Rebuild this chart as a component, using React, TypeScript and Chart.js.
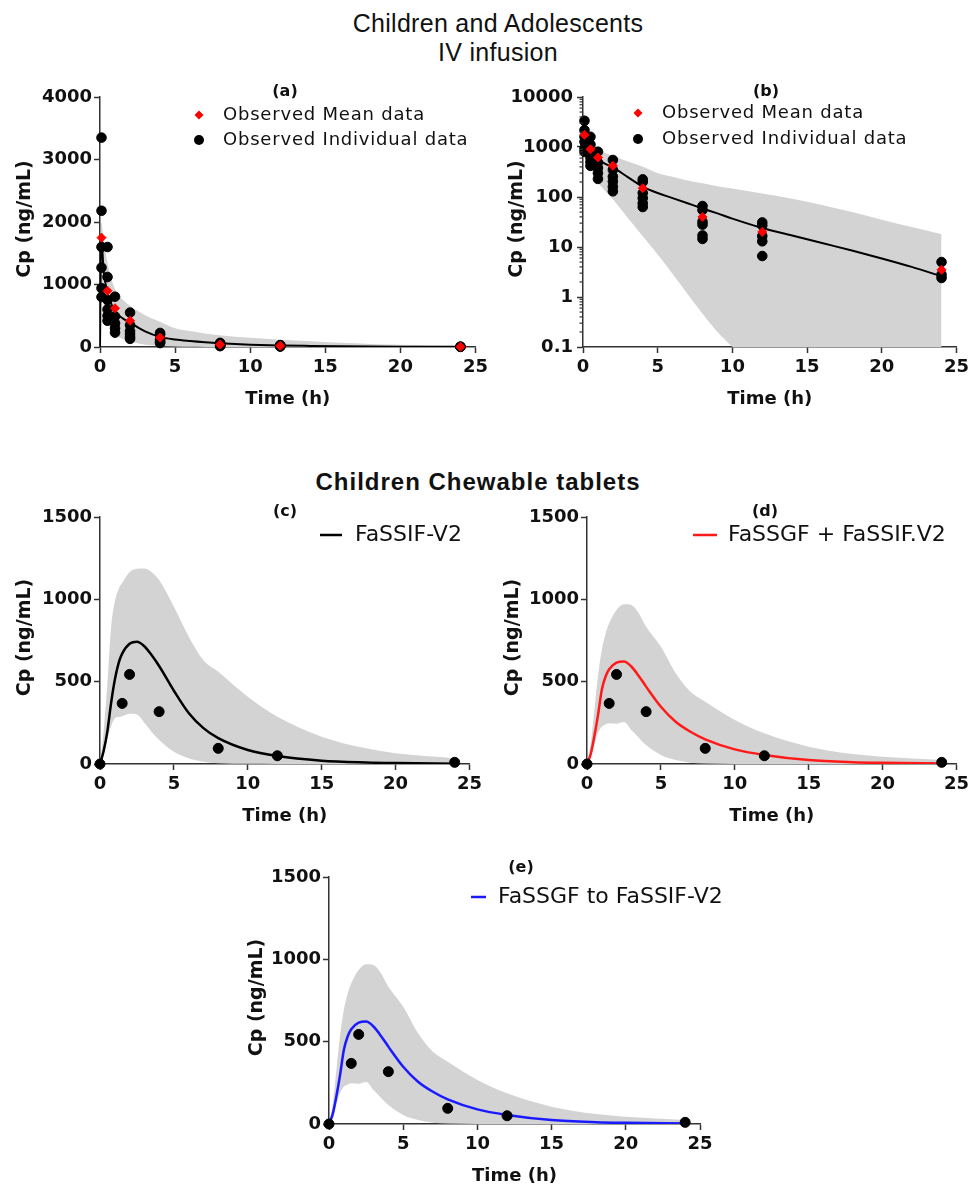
import React, { useEffect, useRef } from 'react';
import { Chart, registerables } from 'chart.js';
Chart.register(...registerables);

// ---------- Children & adolescents, IV infusion ----------
const ivTime = [0, 0.08, 0.25, 0.5, 0.75, 1, 1.5, 2, 3, 4, 5, 6, 7, 8, 9, 10, 12, 14, 16, 18, 20, 22, 24];
const ivSim = [0, 1750, 1200, 870, 690, 570, 460, 390, 250, 162, 120, 95, 75, 59, 47, 37, 24, 17, 12, 8.5, 5.9, 4.0, 2.6];
const ivUpper = [0, 2000, 1700, 1350, 1100, 920, 760, 660, 510, 404, 300, 255, 215, 188, 165, 148, 118, 92, 69, 50, 35, 25, 18];
const ivLower = [0, 900, 700, 450, 300, 200, 130, 90, 38, 16.5, 7.1, 2.9, 1.15, 0.46, 0.2, 0.1, 0.02, 0.004, 0.001, 0.0002, 0.00005, 0.00001, 0.000002];

const ivIndTime = [
  0.1, 0.1, 0.1, 0.1, 0.1, 0.1,
  0.5, 0.5, 0.5, 0.5, 0.5, 0.5,
  1, 1, 1, 1, 1,
  2, 2, 2, 2, 2, 2,
  4, 4, 4, 4, 4, 4,
  8, 8, 8, 8, 8, 8,
  12, 12, 12, 12, 12,
  24, 24, 24,
];
const ivIndConc = [
  3350, 2180, 1600, 1270, 940, 800,
  1600, 1120, 750, 600, 500, 420,
  805, 490, 380, 300, 230,
  550, 350, 255, 205, 160, 130,
  225, 200, 120, 95, 75, 63,
  66, 55, 32, 28, 17, 14.5,
  31, 27, 16.5, 13, 6.6,
  5, 2.8, 2.4,
];
const ivMeanTime = [0.1, 0.5, 1, 2, 4, 8, 12, 24];
const ivMeanConc = [1750, 900, 620, 420, 150, 40, 20, 3.5];

// ---------- Children, chewable tablets ----------
const oralTime = [0, 0.25, 0.5, 0.75, 1, 1.25, 1.5, 2, 2.5, 3, 3.5, 4, 5, 6, 7, 8, 10, 12, 15, 18, 20, 24];
const fassifSim = [0, 80, 200, 370, 510, 610, 670, 730, 742, 715, 660, 595, 445, 310, 218, 157, 85, 48, 20, 9, 5.5, 2];
const fassifUpper = [0, 200, 490, 830, 985, 1060, 1100, 1165, 1185, 1188, 1165, 1117, 955, 775, 630, 560, 408, 287, 166, 95, 65, 35];
const fassifLower = [0, 60, 150, 230, 277, 285, 290, 305, 300, 250, 195, 146, 75, 35, 14, 5, 1, 0.3, 0, 0, 0, 0];
const gastricSim = [0, 60, 170, 300, 450, 530, 575, 615, 622, 592, 535, 470, 348, 257, 196, 150, 89, 55, 24, 11, 7, 3];
const gastricUpper = [0, 120, 330, 540, 692, 790, 854, 935, 970, 965, 915, 833, 712, 551, 439, 378, 267, 186, 105, 60, 44, 24];
const gastricLower = [0, 40, 120, 190, 226, 240, 247, 245, 255, 206, 160, 115, 55, 24, 8, 3, 0.5, 0, 0, 0, 0, 0];
const oralObsTime = [0, 1.5, 2, 4, 8, 12, 24];
const oralObsConc = [0, 368, 544, 318, 95, 50, 10];

// tick labels
const xTicks = [0, 5, 10, 15, 20, 25];
const logTicks = [0.1, 1, 10, 100, 1000, 10000];

// ---------- styling ----------
const AXIS = '#333333';
const TEXT = '#111111';
const BAND = '#d3d3d3';
const TICK_FONT = { family: 'DejaVu Sans', size: 18, weight: 'bold' as const };

const pts = (xs: number[], ys: number[]) => xs.map((x, i) => ({ x, y: ys[i] }));

function band(time: number[], lower: number[], upper: number[]) {
  return [
    {
      data: pts(time, lower), borderWidth: 0, borderColor: 'rgba(0,0,0,0)', backgroundColor: BAND,
      pointRadius: 0, fill: false, order: 6, cubicInterpolationMode: 'monotone',
    },
    {
      data: pts(time, upper), borderWidth: 0, borderColor: 'rgba(0,0,0,0)', backgroundColor: BAND,
      pointRadius: 0, fill: '-1', order: 5, cubicInterpolationMode: 'monotone',
    },
  ];
}
function simLine(time: number[], vals: number[], color: string, width: number) {
  return {
    data: pts(time, vals), borderColor: color, borderWidth: width, pointRadius: 0, fill: false,
    order: 3, cubicInterpolationMode: 'monotone',
  };
}
function dots(time: number[], vals: number[], color: string, style: string, r: number, order: number) {
  return {
    data: pts(time, vals), showLine: false, pointStyle: style, pointRadius: r,
    pointBackgroundColor: color, pointBorderColor: color, pointBorderWidth: 1,
    order, clip: false,
  };
}

type LegendItem = {
  kind: 'diamond' | 'circle' | 'line';
  color: string; mx: number; mx2?: number; y: number; tx: number; text: string;
  font: string; spacing: string;
};
type Spec = {
  left: number; top: number; width: number; height: number; padRight: number;
  log: boolean; yMax: number; yStep: number; yTickPad: number; yTitleOffset: number;
  label: string; labelX: number; labelY: number;
  datasets: any[]; legend: LegendItem[];
};

const ivDatasets = () => [
  ...band(ivTime, ivLower, ivUpper),
  simLine(ivTime, ivSim, '#000000', 2),
  dots(ivIndTime, ivIndConc, '#000000', 'circle', 4.8, 2),
  dots(ivMeanTime, ivMeanConc, '#ff0000', 'rectRot', 4.5, 1),
];
const oralDatasets = (sim: number[], lo: number[], up: number[], color: string) => [
  ...band(oralTime, lo, up),
  simLine(oralTime, sim, color, 2.5),
  dots(oralObsTime, oralObsConc, '#000000', 'circle', 5, 1),
];

const LEG_SMALL = '18px "DejaVu Sans"';
const LEG_BIG = '22px "DejaVu Sans"';

const ivLegend = (mx: number, tx: number, y1: number, y2: number): LegendItem[] => [
  { kind: 'diamond', color: '#ff0000', mx, y: y1, tx, text: 'Observed Mean data', font: LEG_SMALL, spacing: '0.8px' },
  { kind: 'circle', color: '#000000', mx, y: y2, tx, text: 'Observed Individual data', font: LEG_SMALL, spacing: '0.8px' },
];

const specs: Spec[] = [
  {
    left: 5, top: 72, width: 487, height: 337, padRight: 15, log: false, yMax: 4000, yStep: 1000, yTickPad: 2, yTitleOffset: 75,
    label: '(a)', labelX: 285, labelY: 92, datasets: ivDatasets(), legend: ivLegend(199, 223, 115, 140),
  },
  {
    left: 488, top: 72, width: 485, height: 337, padRight: 15, log: true, yMax: 10000, yStep: 0, yTickPad: 4, yTitleOffset: 66,
    label: '(b)', labelX: 766, labelY: 92, datasets: ivDatasets(), legend: ivLegend(638, 662, 113, 139),
  },
  {
    left: 5, top: 492, width: 481, height: 334, padRight: 15, log: false, yMax: 1500, yStep: 500, yTickPad: 2, yTitleOffset: 75,
    label: '(c)', labelX: 285, labelY: 512,
    datasets: oralDatasets(fassifSim, fassifLower, fassifUpper, '#000000'),
    legend: [{ kind: 'line', color: '#000000', mx: 320, mx2: 342, y: 535, tx: 355, text: 'FaSSIF-V2', font: LEG_BIG, spacing: '0px' }],
  },
  {
    left: 492, top: 492, width: 481, height: 334, padRight: 15, log: false, yMax: 1500, yStep: 500, yTickPad: 2, yTitleOffset: 74,
    label: '(d)', labelX: 765, labelY: 512,
    datasets: oralDatasets(gastricSim, gastricLower, gastricUpper, '#ff1a1a'),
    legend: [{ kind: 'line', color: '#ff1a1a', mx: 693, mx2: 717, y: 535, tx: 728, text: 'FaSSGF + FaSSIF.V2', font: LEG_BIG, spacing: '0px' }],
  },
  {
    left: 234, top: 852, width: 521, height: 334, padRight: 55, log: false, yMax: 1500, yStep: 500, yTickPad: 2, yTitleOffset: 72,
    label: '(e)', labelX: 521, labelY: 868,
    datasets: oralDatasets(gastricSim, gastricLower, gastricUpper, '#1a1aff'),
    legend: [{ kind: 'line', color: '#1a1aff', mx: 471, mx2: 486, y: 897, tx: 498, text: 'FaSSGF to FaSSIF-V2', font: LEG_BIG, spacing: '0px' }],
  },
];

function decor(spec: Spec) {
  return {
    id: 'decor',
    afterDraw(chart: any) {
      const { ctx, chartArea: ca } = chart;
      const ox = spec.left, oy = spec.top;
      ctx.save();
      ctx.fillStyle = TEXT;
      ctx.textAlign = 'center';
      ctx.textBaseline = 'middle';
      ctx.font = 'bold 18px "DejaVu Sans"';
      ctx.fillText('Time (h)', (ca.left + ca.right) / 2, ca.bottom + 52);
      ctx.save();
      ctx.translate(ca.left - spec.yTitleOffset, (ca.top + ca.bottom) / 2 - 3);
      ctx.rotate(-Math.PI / 2);
      ctx.font = 'bold 19px "DejaVu Sans"';
      ctx.fillText('Cp (ng/mL)', 0, 0);
      ctx.restore();
      ctx.font = 'bold 16px "DejaVu Sans"';
      ctx.fillText(spec.label, spec.labelX - ox, spec.labelY - oy);

      if (spec.log) {
        const ys = chart.scales.y;
        ctx.strokeStyle = AXIS;
        ctx.lineWidth = 1.2;
        for (let e = -1; e < 4; e++) {
          for (let k = 2; k <= 9; k++) {
            const py = ys.getPixelForValue(k * Math.pow(10, e));
            ctx.beginPath();
            ctx.moveTo(ca.left - 3.5, py);
            ctx.lineTo(ca.left, py);
            ctx.stroke();
          }
        }
      }

      ctx.textAlign = 'left';
      for (const it of spec.legend) {
        const mx = it.mx - ox, my = it.y - oy;
        ctx.fillStyle = it.color;
        ctx.strokeStyle = it.color;
        if (it.kind === 'diamond') {
          const r = 4.5;
          ctx.beginPath();
          ctx.moveTo(mx, my - r); ctx.lineTo(mx + r, my); ctx.lineTo(mx, my + r); ctx.lineTo(mx - r, my);
          ctx.closePath(); ctx.fill();
        } else if (it.kind === 'circle') {
          ctx.beginPath(); ctx.arc(mx, my, 5, 0, Math.PI * 2); ctx.fill();
        } else {
          ctx.lineWidth = 2.5;
          ctx.beginPath(); ctx.moveTo(mx, my); ctx.lineTo((it.mx2 as number) - ox, my); ctx.stroke();
        }
        ctx.fillStyle = TEXT;
        ctx.font = it.font;
        (ctx as any).letterSpacing = it.spacing;
        ctx.fillText(it.text, it.tx - ox, my);
        (ctx as any).letterSpacing = '0px';
      }
      ctx.restore();
    },
  };
}

const plain = (v: any) => String(v);

function buildConfig(spec: Spec): any {
  const common = {
    grid: { display: true, drawOnChartArea: false, drawTicks: true, tickLength: 6, tickColor: AXIS, tickWidth: 1.5 },
    border: { display: true, color: AXIS, width: 1.5 },
  };
  const yScale: any = spec.log
    ? {
        type: 'logarithmic', min: 0.1, max: 10000, ...common,
        afterBuildTicks: (s: any) => { s.ticks = logTicks.map((v) => ({ value: v })); },
        ticks: { font: TICK_FONT, color: TEXT, padding: spec.yTickPad, callback: plain, autoSkip: false },
        afterFit: (s: any) => { s.width = 95; },
      }
    : {
        type: 'linear', min: 0, max: spec.yMax, ...common,
        ticks: { stepSize: spec.yStep, font: TICK_FONT, color: TEXT, padding: spec.yTickPad, callback: plain },
        afterFit: (s: any) => { s.width = 95; },
      };
  return {
    type: 'line',
    data: { datasets: spec.datasets },
    options: {
      animation: false,
      responsive: false,
      maintainAspectRatio: false,
      events: [],
      layout: { padding: { top: 25, right: spec.padRight, left: 0, bottom: 0 } },
      plugins: { legend: { display: false }, tooltip: { enabled: false }, title: { display: false } },
      scales: {
        x: {
          type: 'linear', min: 0, max: 25, ...common,
          afterBuildTicks: (s: any) => { s.ticks = xTicks.map((v) => ({ value: v })); },
          ticks: { font: TICK_FONT, color: TEXT, padding: 4, maxRotation: 0, autoSkip: false, callback: plain },
          afterFit: (s: any) => { s.height = 62; },
        },
        y: yScale,
      },
    },
    plugins: [decor(spec)],
  };
}

function Panel({ spec }: { spec: Spec }) {
  const ref = useRef<HTMLCanvasElement>(null);
  useEffect(() => {
    if (!ref.current) return;
    const chart = new Chart(ref.current, buildConfig(spec));
    return () => chart.destroy();
  }, [spec]);
  return (
    <canvas
      ref={ref}
      width={spec.width}
      height={spec.height}
      style={{ position: 'absolute', left: spec.left, top: spec.top, width: spec.width, height: spec.height }}
    />
  );
}

const titleBase: React.CSSProperties = {
  position: 'absolute', left: 98, width: 800, textAlign: 'center', color: TEXT,
  fontFamily: '"Liberation Sans", Arial, sans-serif', whiteSpace: 'nowrap',
};

export default function App() {
  return (
    <div style={{ position: 'absolute', left: 0, top: 0, width: 973, height: 1186, overflow: 'hidden', background: '#ffffff' }}>
      <div style={{ ...titleBase, top: 8, fontSize: 25, lineHeight: '30px', letterSpacing: '0.3px' }}>Children and Adolescents</div>
      <div style={{ ...titleBase, top: 37, fontSize: 25, lineHeight: '30px', letterSpacing: '0.3px' }}>IV infusion</div>
      <div style={{ ...titleBase, left: 78, top: 467, fontSize: 24, lineHeight: '30px', fontWeight: 'bold', letterSpacing: '1px' }}>
        Children Chewable tablets
      </div>
      {specs.map((s, i) => (
        <Panel key={i} spec={s} />
      ))}
    </div>
  );
}
